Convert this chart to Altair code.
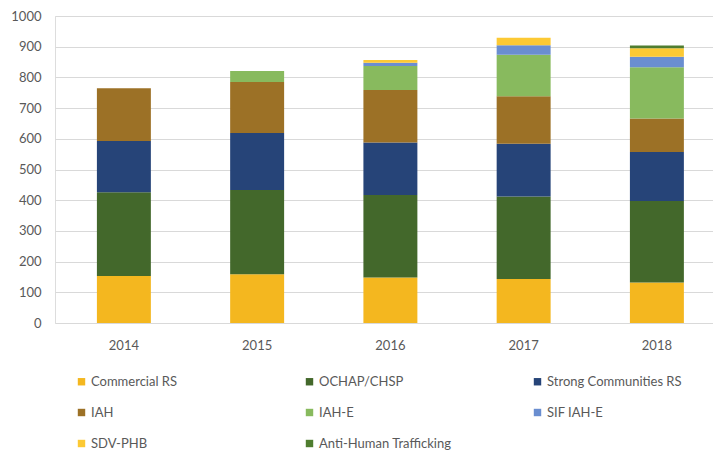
import altair as alt
import pandas as pd

years = ["2014", "2015", "2016", "2017", "2018"]
series = ["Commercial RS", "OCHAP/CHSP", "Strong Communities RS", "IAH",
          "IAH-E", "SIF IAH-E", "SDV-PHB", "Anti-Human Trafficking"]
commercial_rs = [153, 159, 148, 143, 132]
ochap_chsp = [273, 274, 269, 269, 265]
strong_communities = [167, 186, 171, 172, 160]
iah = [172, 166, 171, 155, 109]
iah_e = [0, 36, 78, 135, 167]
sif_iah_e = [0, 0, 11, 31, 34]
sdv_phb = [0, 0, 9, 24, 28]
anti_human_trafficking = [0, 0, 0, 0, 9]
colors = ["#F4B71F", "#43682B", "#264478", "#9C7126",
          "#88BA5E", "#6A8ED0", "#FCC934", "#4F7D2F"]

values = [commercial_rs, ochap_chsp, strong_communities, iah,
          iah_e, sif_iah_e, sdv_phb, anti_human_trafficking]
rows = []
for si, (name, vals) in enumerate(zip(series, values)):
    for y, v in zip(years, vals):
        rows.append({"Year": y, "Series": name, "Value": v, "order": si})
df = pd.DataFrame(rows)

FONT = "Lato"
GRAY = "#595959"

chart = alt.Chart(df).mark_bar().encode(
    x=alt.X("Year:N", sort=years, title=None,
            scale=alt.Scale(paddingInner=0.595, paddingOuter=0.2665, align=0.59),
            axis=alt.Axis(labelAngle=0, domain=False, ticks=False, labelPadding=16,
                          labelFontSize=13, labelColor=GRAY, labelFont=FONT)),
    y=alt.Y("Value:Q", stack="zero", title=None,
            scale=alt.Scale(domain=[0, 1000], nice=False),
            axis=alt.Axis(values=list(range(0, 1001, 100)), format="d", domain=False,
                          ticks=False, labelPadding=14, labelFontSize=13, labelColor=GRAY,
                          labelFont=FONT, gridColor="#D9D9D9", gridWidth=1)),
    color=alt.Color("Series:N", sort=series,
                    scale=alt.Scale(domain=series, range=colors),
                    legend=alt.Legend(title=None, orient="none", legendX=20, legendY=359,
                                      columns=3, direction="horizontal",
                                      gridAlign="all", columnPadding=77, rowPadding=17,
                                      symbolType="square", symbolSize=55,
                                      symbolStrokeWidth=0, labelFontSize=13,
                                      labelColor=GRAY, labelFont=FONT, labelOffset=3,
                                      labelLimit=300)),
    order=alt.Order("order:Q", sort="ascending"),
).properties(
    width=658, height=307,
    padding={"left": 2, "top": 2, "right": 0, "bottom": 0},
).configure_view(stroke=None).configure(background="white")

chart.save("out.html", embed_options={"renderer": "svg", "actions": False})
